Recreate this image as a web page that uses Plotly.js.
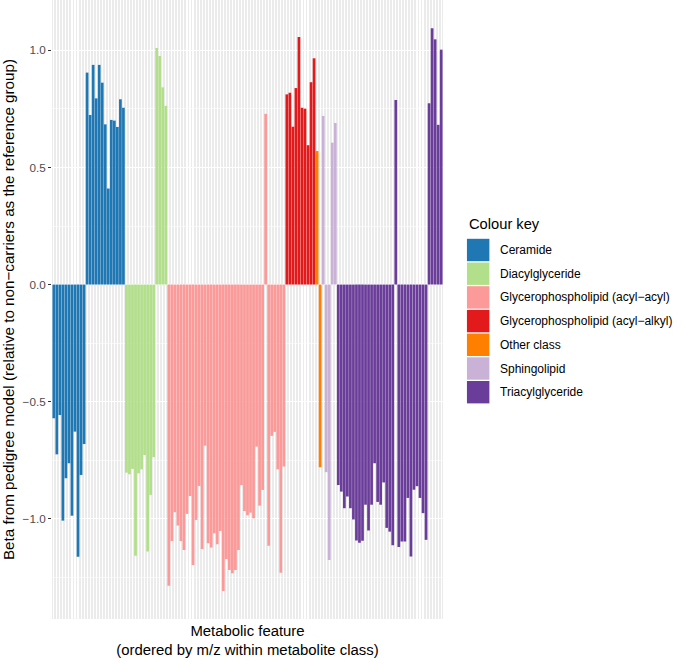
<!DOCTYPE html>
<html>
<head>
<meta charset="utf-8">
<script src="https://cdn.plot.ly/plotly-3.0.1.min.js"></script>
<style>html,body{margin:0;padding:0;background:#fff;}#chart{width:685px;height:658px;}</style>
</head>
<body>
<div id="chart"></div>
<script>
// ---- data ----
const classes = [
  'Ceramide',
  'Diacylglyceride',
  'Glycerophospholipid (acyl\u2212acyl)',
  'Glycerophospholipid (acyl\u2212alkyl)',
  'Other class',
  'Sphingolipid',
  'Triacylglyceride'
];
const classColors = ['#1F78B4', '#B2DF8A', '#FB9A99', '#E31A1C', '#FF7F00', '#CAB2D6', '#6A3D9A'];

const ceramide = [-0.571, -0.725, -0.557, -1.008, -0.827, -0.763, -0.987, -0.628, -1.162, -0.813, -0.681,
  0.905, 0.724, 0.938, 0.795, 0.938, 0.862, 0.684, 0.410, 0.703, 0.700, 0.673, 0.791, 0.755];
const diacylglyceride = [-0.803, -0.810, -0.787, -1.158, -0.806, -0.789, -0.728, -1.140, -0.898, -0.737,
  1.010, 0.976, 0.842, 0.763];
const gplAcylAcyl = [-1.286, -1.095, -0.972, -1.029, -1.095, -1.133, -0.979, -0.903, -1.197, -1.005,
  -0.860, -1.129, -0.688, -1.105, -1.123, -1.062, -1.109, -1.052, -1.308, -1.172,
  -1.219, -1.233, -1.219, -1.133, -0.856, -0.967, -0.985, -0.974, -0.998, -0.692,
  -0.944, -0.877, 0.729, -1.115, -0.646, -0.629, -0.789, -1.230, -0.777];
const gplAcylAlkyl = [0.812, 0.819, 0.674, 0.839, 1.057, 0.755, 0.751, 0.595, 0.864, 0.966];
const otherClass = [0.570, -0.780];
const sphingolipid = [0.720, -0.801, -1.176, 0.606, 0.690];
const triacylglyceride = [-0.856, -0.884, -0.955, -0.905, -0.955, -1.003, -1.093, -1.102, -1.094, -0.940,
  -1.050, -0.940, -0.763, -0.928, -0.940, -0.845, -1.039, -1.055, -1.113, 0.788,
  -1.121, -1.097, -1.097, -0.911, -1.161, -0.876, -0.861, -0.911, -0.976, -1.090,
  0.774, 1.094, 1.047, 0.682, 1.003];

const seriesValues = [ceramide, diacylglyceride, gplAcylAcyl, gplAcylAlkyl, otherClass, sphingolipid, triacylglyceride];

const yTickVals = [-1.0, -0.5, 0.0, 0.5, 1.0];
const xTitle = 'Metabolic feature<br>(ordered by m/z within metabolite class)';
const yTitle = 'Beta from pedigree model (relative to non\u2212carriers as the reference group)';
const legendTitle = 'Colour key';

// ---- build traces (features ordered within class) ----
let idx = 0;
const traces = seriesValues.map((vals, c) => {
  const xs = vals.map(() => ++idx);
  return {
    type: 'bar', x: xs, y: vals, name: classes[c],
    marker: {color: classColors[c], line: {width: 0}},
    width: 0.9, showlegend: false, hoverinfo: 'x+y+name'
  };
});
const nFeatures = idx;

// ---- geometry ----
const W = 685, H = 658;
const L = 51.5, PW = 392, T = 0, PH = 619;
const px2x = p => (p - L) / PW;
const py2y = p => 1 - (p - T) / PH;
const FONT = 'Liberation Sans, Arial, sans-serif';

const shapes = [], annotations = [];
annotations.push({
  xref: 'paper', yref: 'paper', x: px2x(467.5), y: py2y(224), xanchor: 'left', yanchor: 'middle',
  text: legendTitle, showarrow: false, font: {family: FONT, size: 14.7, color: '#000'}
});
const pitch = 23.7, firstC = 250;
classes.forEach((name, i) => {
  const cy = firstC + pitch * i;
  shapes.push({
    type: 'rect', xref: 'paper', yref: 'paper', layer: 'above',
    x0: px2x(467.5), x1: px2x(490), y0: py2y(cy - 11.2), y1: py2y(cy + 11.2),
    fillcolor: classColors[i], line: {width: 0}
  });
  annotations.push({
    xref: 'paper', yref: 'paper', x: px2x(498.5), y: py2y(cy), xanchor: 'left', yanchor: 'middle',
    text: name, showarrow: false, font: {family: FONT, size: 12, color: '#000'}
  });
});

const layout = {
  width: W, height: H,
  margin: {l: L, r: W - L - PW, t: T, b: H - T - PH, pad: 0},
  paper_bgcolor: '#FFFFFF', plot_bgcolor: '#EBEBEB',
  barmode: 'overlay', bargap: 0.1,
  font: {family: FONT, color: '#000'},
  xaxis: {
    range: [0.4, nFeatures + 0.6], tick0: 1, dtick: 1,
    showgrid: true, gridcolor: '#FFFFFF', gridwidth: 1.07,
    showticklabels: false, ticks: '', zeroline: false, showline: false,
    title: {text: xTitle, font: {size: 14.9, color: '#000'}, standoff: 8}
  },
  yaxis: {
    range: [-1.428, 1.215], tickmode: 'array', tickvals: yTickVals, tickformat: '.1f',
    showgrid: true, gridcolor: '#FFFFFF', gridwidth: 1.07,
    minor: {dtick: 0.25, tick0: 0, showgrid: true, gridcolor: '#FFFFFF', gridwidth: 0.53, ticks: ''},
    ticks: 'outside', ticklen: 3, tickwidth: 1.07, tickcolor: '#333333',
    tickfont: {size: 11.7, color: '#4D4D4D'},
    zeroline: false, showline: false,
    title: {text: yTitle, font: {size: 15.2, color: '#000'}, standoff: 4}
  },
  shapes: shapes, annotations: annotations
};

Plotly.newPlot('chart', traces, layout, {displayModeBar: false, staticPlot: true});
</script>
</body>
</html>
